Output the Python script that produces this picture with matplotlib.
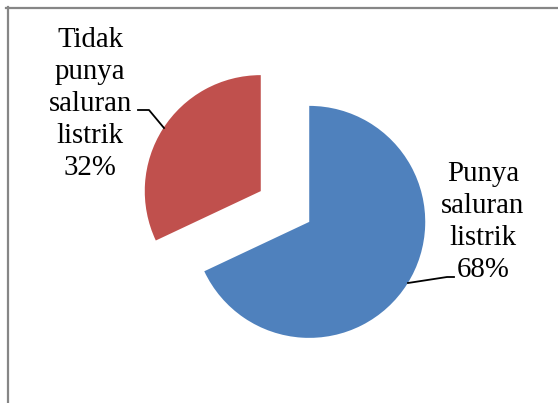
import matplotlib
matplotlib.use("Agg")
import matplotlib.pyplot as plt

categories = ["Punya\nsaluran\nlistrik", "Tidak\npunya\nsaluran\nlistrik"]
values = [68, 32]
colors = ["#4F81BD", "#C0504D"]

W, H = 558, 403
fig = plt.figure(figsize=(W / 100, H / 100), dpi=100)
ax = fig.add_axes([0, 0, 1, 1])

def py(y):
    return H - y

R = 116
ax.pie(values, colors=colors, startangle=90, counterclock=False,
       center=(285, py(206.5)), radius=R, explode=[28.7, 28.7],
       frame=True, wedgeprops=dict(linewidth=0, edgecolor="none"))
ax.set_xlim(0, W)
ax.set_ylim(0, H)
ax.set_aspect("equal")
ax.axis("off")

font = dict(family="Liberation Serif", fontsize=20.8, color="#000000",
            ha="center", va="center", multialignment="center", linespacing=1.3)
ax.text(90, py(104), f"{categories[1]}\n{values[1]}%", **font)
ax.text(483, py(222), f"{categories[0]}\n{values[0]}%", **font)

# leader lines
ax.plot([138, 149, 164], [py(110), py(110), py(128)], color="black", lw=1.3)
ax.plot([408, 447, 454], [py(283), py(277), py(277)], color="black", lw=1.3)

# chart border (top & left visible)
ax.plot([6, W], [py(7.5), py(7.5)], color="#868686", lw=1.6, clip_on=False)
ax.plot([7.5, 7.5], [py(7), 0], color="#868686", lw=1.6, clip_on=False)

fig.savefig("out.png", dpi=100)
